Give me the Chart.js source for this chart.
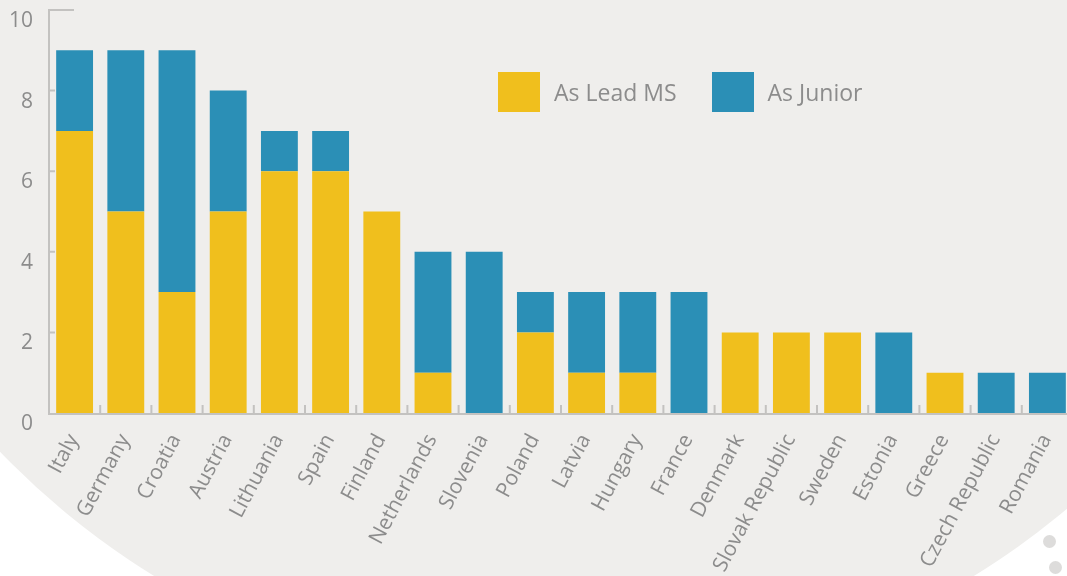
<!DOCTYPE html>
<html>
<head>
<meta charset="utf-8">
<script src="https://cdn.jsdelivr.net/npm/chart.js@4"></script>
<style>
  html, body { margin: 0; padding: 0; background: #ffffff; overflow: hidden; }
  #stage { position: relative; width: 1067px; height: 576px; overflow: hidden; background: #ffffff; }
  #disc { position: absolute; left: -218px; top: -872px; width: 1564px; height: 1564px; border-radius: 50%; background: #efeeec; }
  .dot { position: absolute; width: 13px; height: 13px; border-radius: 50%; background: #dddcdb; }
  #wrap { position: absolute; left: 0; top: 0; width: 1080px; height: 576px; }
  #legend { position: absolute; left: 498px; top: 72px; display: flex; font-family: "Open Sans", sans-serif; font-size: 23px; color: #8c8c8c; }
  .item { display: flex; align-items: center; margin-right: 35px; }
  .swatch { width: 42px; height: 40px; margin-right: 14px; }
</style>
</head>
<body>
<div id="stage">
  <div id="disc"></div>
  <div class="dot" style="left:1043px; top:535px;"></div>
  <div class="dot" style="left:1049px; top:561px;"></div>
  <div id="wrap"><canvas id="chart" width="1080" height="576"></canvas></div>
  <div id="legend"></div>
</div>
<script>
// Countries along the x axis
const countries = ["Italy", "Germany", "Croatia", "Austria", "Lithuania", "Spain", "Finland",
  "Netherlands", "Slovenia", "Poland", "Latvia", "Hungary", "France", "Denmark",
  "Slovak Republic", "Sweden", "Estonia", "Greece", "Czech Republic", "Romania"];

// Number of projects per country
const asLead   = [7, 5, 3, 5, 6, 6, 5, 1, 0, 2, 1, 1, 0, 2, 2, 2, 0, 1, 0, 0];
const asJunior = [2, 4, 6, 3, 1, 1, 0, 3, 4, 1, 2, 2, 3, 0, 0, 0, 2, 0, 1, 1];

const yTicks = [0, 2, 4, 6, 8, 10];

const yellow = '#f0bf1d';
const blue = '#2b8fb6';
const axisGrey = '#c3c2c0';
const textGrey = '#8c8c8c';

// small marks on the axes, drawn inside the plot area
const axisDecor = {
  id: 'axisDecor',
  afterDatasetsDraw(chart) {
    const { ctx, chartArea: a, scales: { x, y } } = chart;
    ctx.save();
    ctx.strokeStyle = axisGrey;
    ctx.lineWidth = 2;
    ctx.beginPath();
    ctx.moveTo(a.left + 25, a.top);
    ctx.lineTo(a.left, a.top);
    ctx.lineTo(a.left, a.bottom + 1);
    ctx.lineTo(a.right, a.bottom + 1);
    yTicks.forEach(v => {
      if (v > 0 && v < 10) {
        const py = y.getPixelForValue(v);
        ctx.moveTo(a.left, py);
        ctx.lineTo(a.left + 6, py);
      }
    });
    for (let i = 1; i < countries.length; i++) {
      const px = (x.getPixelForValue(i - 1) + x.getPixelForValue(i)) / 2;
      ctx.moveTo(px, a.bottom);
      ctx.lineTo(px, a.bottom - 8);
    }
    ctx.stroke();
    ctx.restore();
  }
};

const chart = new Chart(document.getElementById('chart'), {
  type: 'bar',
  data: {
    labels: countries,
    datasets: [
      { label: 'As Lead MS', data: asLead, backgroundColor: yellow },
      { label: 'As Junior', data: asJunior, backgroundColor: blue }
    ]
  },
  options: {
    responsive: false,
    animation: false,
    layout: { padding: { top: 10, right: 7, left: 0, bottom: 0 } },
    plugins: { legend: { display: false }, tooltip: { enabled: false } },
    datasets: { bar: { barPercentage: 0.72, categoryPercentage: 1 } },
    scales: {
      x: {
        stacked: true,
        grid: { display: false, drawTicks: false },
        border: { display: false },
        ticks: {
          autoSkip: false, minRotation: 62, maxRotation: 62,
          padding: 17, labelOffset: -1,
          color: textGrey, font: { family: 'Open Sans', size: 21 }
        },
        afterFit(s) { s.height = 163; s.paddingLeft = 0; s.paddingRight = 0; }
      },
      y: {
        stacked: true, min: 0, max: 10,
        afterBuildTicks(s) { s.ticks = yTicks.map(v => ({ value: v })); },
        grid: { display: false, drawTicks: false },
        border: { display: false },
        ticks: {
          padding: 16, labelOffset: 11,
          color: textGrey, font: { family: 'Open Sans', size: 21 }
        },
        afterFit(s) { s.width = 49; s.paddingTop = 0; s.paddingBottom = 0; }
      }
    }
  },
  plugins: [axisDecor]
});

// HTML legend built from the datasets
const legend = document.getElementById('legend');
chart.data.datasets.forEach(ds => {
  legend.insertAdjacentHTML('beforeend',
    `<div class="item"><div class="swatch" style="background:${ds.backgroundColor}"></div><span>${ds.label}</span></div>`);
});
</script>
</body>
</html>
